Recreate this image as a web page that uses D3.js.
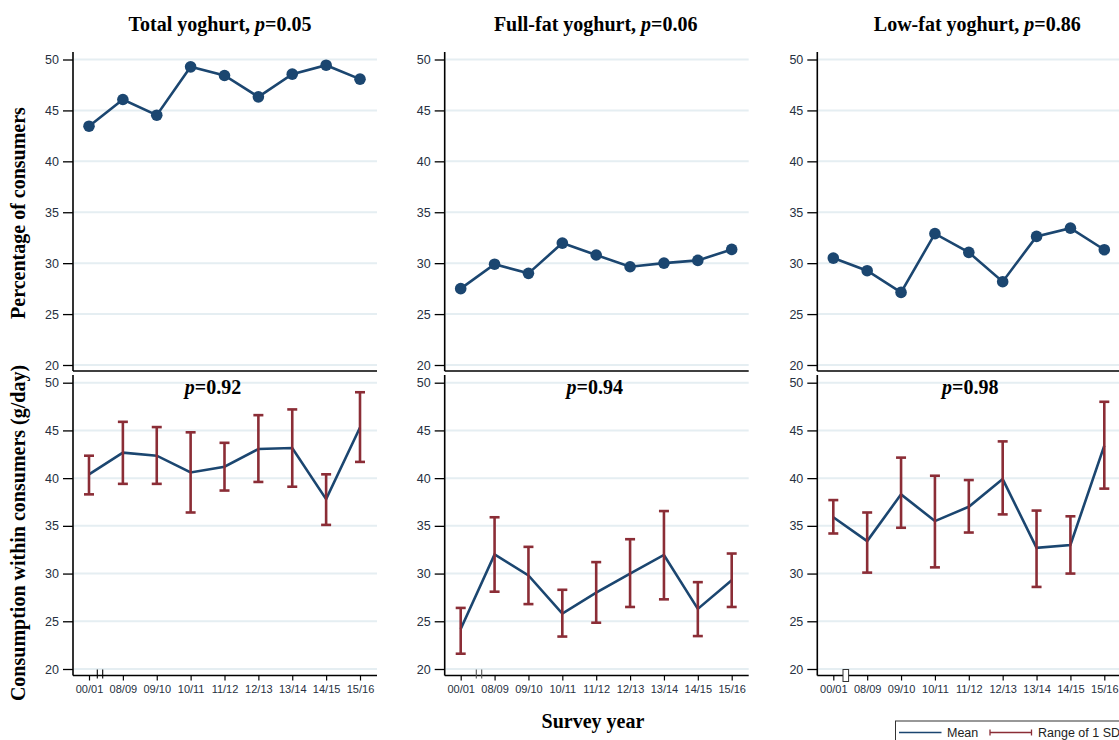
<!DOCTYPE html>
<html><head><meta charset="utf-8">
<script src="https://cdn.jsdelivr.net/npm/d3@7"></script>
<style>
html,body{margin:0;padding:0;background:#fff;}
svg{display:block;}
</style></head>
<body>
<svg id="chart" width="1119" height="740"></svg>
<script>
// ---------- data ----------
const years = ["00/01","08/09","09/10","10/11","11/12","12/13","13/14","14/15","15/16"];
const yTicks = [20,25,30,35,40,45,50];

const panelTitles = ["Total yoghurt", "Full-fat yoghurt", "Low-fat yoghurt"];
const topP = ["0.05", "0.06", "0.86"];
const bottomP = ["0.92", "0.94", "0.98"];

// Percentage of consumers
const pctTotal = [43.45, 46.07, 44.53, 49.28, 48.43, 46.33, 48.56, 49.44, 48.07];
const pctFull  = [27.5, 29.9, 29.0, 31.97, 30.8, 29.65, 30.0, 30.27, 31.35];
const pctLow   = [30.5, 29.26, 27.13, 32.9, 31.06, 28.18, 32.63, 33.44, 31.32];

// Consumption within consumers (g/day): mean, mean-1SD, mean+1SD
const gTotalMean = [40.4, 42.67, 42.35, 40.6, 41.2, 43.05, 43.15, 37.8, 45.3];
const gTotalLo   = [38.3, 39.4, 39.4, 36.4, 38.7, 39.6, 39.1, 35.1, 41.7];
const gTotalHi   = [42.35, 45.9, 45.35, 44.8, 43.7, 46.6, 47.2, 40.4, 49.0];

const gFullMean = [24.2, 32.0, 29.8, 25.8, 28.0, 30.0, 31.95, 26.3, 29.3];
const gFullLo   = [21.6, 28.1, 26.8, 23.4, 24.85, 26.5, 27.3, 23.45, 26.5];
const gFullHi   = [26.4, 35.9, 32.8, 28.3, 31.2, 33.6, 36.55, 29.1, 32.1];

const gLowMean = [35.9, 33.4, 38.3, 35.5, 37.0, 39.9, 32.7, 33.0, 43.4];
const gLowLo   = [34.2, 30.1, 34.8, 30.65, 34.3, 36.2, 28.6, 30.0, 38.9];
const gLowHi   = [37.7, 36.4, 42.15, 40.25, 39.8, 43.85, 36.6, 36.0, 48.0];

const pctSeries = [pctTotal, pctFull, pctLow];
const gSeries = [
  {mean: gTotalMean, lo: gTotalLo, hi: gTotalHi},
  {mean: gFullMean,  lo: gFullLo,  hi: gFullHi},
  {mean: gLowMean,   lo: gLowLo,   hi: gLowHi}
];

// ---------- layout / style ----------
const NAVY = "#1b4670";
const RED = "#8b2d36";
const GRID = "#e5eef2";
const TICKC = "#263041";
const SERIF = "'Liberation Serif','Times New Roman',serif";
const SANS = "'Liberation Sans',Arial,sans-serif";

const svg = d3.select("#chart");
const colX = [73, 444.7, 817.3];
const breakOffset = [11, 18.3, 12.5];
const plotW = 304;
const topRow = {y0: 59.5, y1: 365, axisTop: 52, axisBottom: 371};
const botRow = {y0: 382.7, y1: 669, axisTop: 375, axisBottom: 675.5};

function title(g, x, y, prefix, pval, size) {
  const t = g.append("text")
    .attr("x", x).attr("y", y)
    .attr("text-anchor", "middle")
    .attr("font-family", SERIF)
    .attr("font-weight", "bold")
    .attr("font-size", size)
    .attr("fill", "#000");
  if (prefix) t.append("tspan").text(prefix + ", ");
  t.append("tspan").attr("font-style", "italic").text("p");
  t.append("tspan").text("=" + pval);
}

function drawPanel(col, row, isTop) {
  const ax = colX[col];
  const g = svg.append("g");
  const x = d3.scalePoint().domain(years).range([ax + 16, ax + 287]);
  const y = d3.scaleLinear().domain([20, 50]).range([row.y1, row.y0]);

  // gridlines
  g.append("g").selectAll("line").data(yTicks).join("line")
    .attr("x1", ax + 1).attr("x2", ax + plotW)
    .attr("y1", d => y(d)).attr("y2", d => y(d))
    .attr("stroke", GRID).attr("stroke-width", 2);

  // y axis
  const yAxis = d3.axisLeft(y).tickValues(yTicks).tickSize(10).tickPadding(4).tickSizeOuter(0);
  const ya = g.append("g").attr("transform", `translate(${ax},0)`).call(yAxis);
  ya.select(".domain").remove();
  ya.selectAll(".tick line").attr("stroke", "#000").attr("stroke-width", 1.3);
  ya.selectAll(".tick text").attr("font-family", SANS).attr("font-size", 12.5).attr("fill", TICKC);
  g.append("line").attr("x1", ax).attr("x2", ax).attr("y1", row.axisTop).attr("y2", row.axisBottom)
    .attr("stroke", "#000").attr("stroke-width", 1.6);

  // x axis
  g.append("line").attr("x1", ax).attr("x2", ax + plotW).attr("y1", row.axisBottom).attr("y2", row.axisBottom)
    .attr("stroke", "#000").attr("stroke-width", 1.6);
  if (!isTop) {
    const xAxis = d3.axisBottom(x).tickSize(5).tickPadding(5).tickSizeOuter(0);
    const xa = g.append("g").attr("transform", `translate(0,${row.axisBottom})`).call(xAxis);
    xa.select(".domain").remove();
    xa.selectAll(".tick line").attr("stroke", "#000").attr("stroke-width", 1.2);
    xa.selectAll(".tick text").attr("font-family", SANS).attr("font-size", 11).attr("fill", TICKC);
    // axis break marks between 00/01 and 08/09
    const bx = x(years[0]) + breakOffset[col];
    if (col < 2) {
      [-2.7, 2.7].forEach(dx => {
        g.append("line").attr("x1", bx + dx).attr("x2", bx + dx)
          .attr("y1", row.axisBottom - 6).attr("y2", row.axisBottom + 3)
          .attr("stroke", col === 0 ? "#000" : "#555").attr("stroke-width", 1.1);
      });
    } else {
      g.append("rect").attr("x", bx - 2.8).attr("y", row.axisBottom - 6)
        .attr("width", 5.6).attr("height", 12)
        .attr("fill", "#fff").attr("stroke", "#333").attr("stroke-width", 1);
    }
  }

  if (isTop) {
    const vals = pctSeries[col];
    const line = d3.line().x((d, i) => x(years[i])).y(d => y(d));
    g.append("path").datum(vals).attr("d", line)
      .attr("fill", "none").attr("stroke", NAVY).attr("stroke-width", 2.6);
    g.append("g").selectAll("circle").data(vals).join("circle")
      .attr("cx", (d, i) => x(years[i])).attr("cy", d => y(d)).attr("r", 5.8)
      .attr("fill", NAVY);
    title(svg, colX[col] + [147, 151, 160][col], 31, panelTitles[col], topP[col], 20);
  } else {
    const s = gSeries[col];
    const line = d3.line().x((d, i) => x(years[i])).y(d => y(d));
    g.append("path").datum(s.mean).attr("d", line)
      .attr("fill", "none").attr("stroke", NAVY).attr("stroke-width", 2.6);
    const eb = g.append("g").attr("stroke", RED).attr("stroke-width", 2.6);
    years.forEach((yr, i) => {
      const cx = x(yr);
      eb.append("line").attr("x1", cx).attr("x2", cx).attr("y1", y(s.lo[i])).attr("y2", y(s.hi[i]));
      eb.append("line").attr("x1", cx - 5).attr("x2", cx + 5).attr("y1", y(s.lo[i])).attr("y2", y(s.lo[i]));
      eb.append("line").attr("x1", cx - 5).attr("x2", cx + 5).attr("y1", y(s.hi[i])).attr("y2", y(s.hi[i]));
    });
    title(svg, colX[col] + [140, 150, 153][col], 394, null, bottomP[col], 20);
  }
}

for (let c = 0; c < 3; c++) {
  drawPanel(c, topRow, true);
  drawPanel(c, botRow, false);
}

// axis titles
svg.append("text").attr("transform", "translate(25,213) rotate(-90)")
  .attr("text-anchor", "middle").attr("font-family", SERIF).attr("font-weight", "bold")
  .attr("font-size", 20).text("Percentage of consumers");
svg.append("text").attr("transform", "translate(25,533) rotate(-90)")
  .attr("text-anchor", "middle").attr("font-family", SERIF).attr("font-weight", "bold")
  .attr("font-size", 20).text("Consumption within consumers (g/day)");
svg.append("text").attr("x", 593).attr("y", 728)
  .attr("text-anchor", "middle").attr("font-family", SERIF).attr("font-weight", "bold")
  .attr("font-size", 20).text("Survey year");

// legend
const lg = svg.append("g");
lg.append("rect").attr("x", 895.5).attr("y", 721).attr("width", 240).attr("height", 30)
  .attr("fill", "#fff").attr("stroke", "#333").attr("stroke-width", 1);
lg.append("line").attr("x1", 899).attr("x2", 941.5).attr("y1", 732.5).attr("y2", 732.5)
  .attr("stroke", NAVY).attr("stroke-width", 1.3);
lg.append("text").attr("x", 947).attr("y", 737).attr("font-family", SANS).attr("font-size", 12.5)
  .attr("fill", "#222").text("Mean");
lg.append("line").attr("x1", 990).attr("x2", 1031.5).attr("y1", 732.5).attr("y2", 732.5)
  .attr("stroke", RED).attr("stroke-width", 1.3);
[990, 1031.5].forEach(xx => lg.append("line").attr("x1", xx).attr("x2", xx).attr("y1", 729.5).attr("y2", 735.5)
  .attr("stroke", RED).attr("stroke-width", 1.3));
lg.append("text").attr("x", 1038).attr("y", 737).attr("font-family", SANS).attr("font-size", 12.5)
  .attr("fill", "#222").text("Range of 1 SD");
</script>
</body></html>
